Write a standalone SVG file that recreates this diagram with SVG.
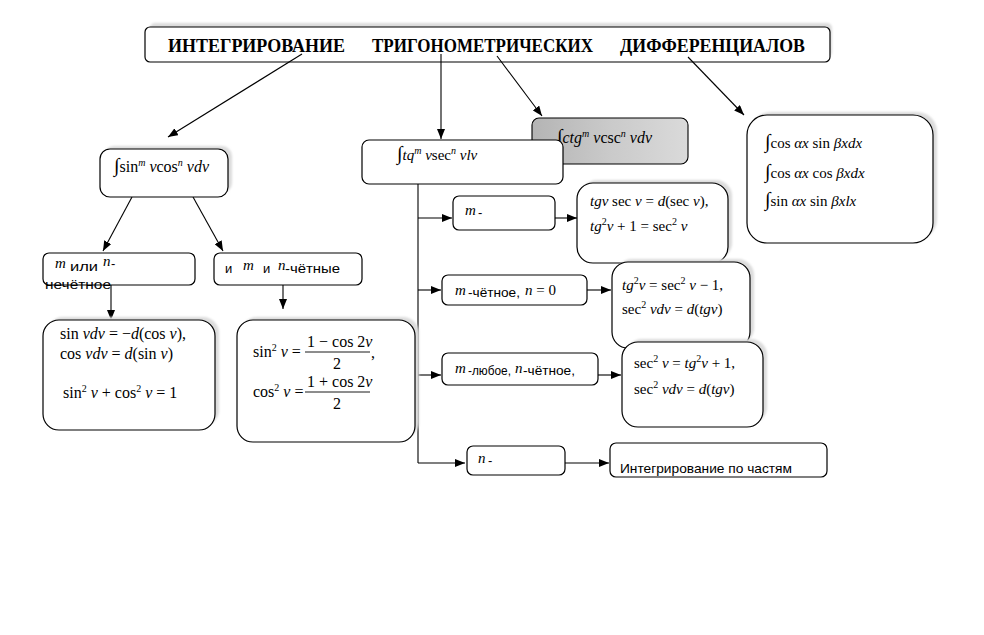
<svg xmlns="http://www.w3.org/2000/svg" width="984" height="635" viewBox="0 0 984 635">
<style>
.b{fill:#fff;stroke:#000;stroke-width:1.2}
.bn{fill:none;stroke:#000;stroke-width:1.2}
.sh{fill:#dcdcdc;filter:url(#bl)}
.f{font-family:"Liberation Serif",serif;font-size:15px;fill:#000}
.f16{font-size:16px}
.i{font-style:italic}
.s{font-size:10px}
.int{font-size:20px}
.t{font-family:"Liberation Sans",Arial,sans-serif;font-size:13px;fill:#000}
.c{stroke:#000;stroke-width:1.1;fill:none}
.a{marker-end:url(#ah)}
.title{font-family:"Liberation Serif",serif;font-size:18px;font-weight:bold}
</style>
<defs>
<filter id="bl" x="-10%" y="-20%" width="120%" height="140%"><feGaussianBlur stdDeviation="1.2"/></filter>
<marker id="ah" markerUnits="userSpaceOnUse" markerWidth="10" markerHeight="8" refX="10" refY="4" orient="auto"><path d="M0,0 L10,4 L0,8 z" fill="#000"/></marker>
<linearGradient id="gg" x1="0" y1="0" x2="1" y2="0"><stop offset="0" stop-color="#b4b4b4"/><stop offset="0.5" stop-color="#cacaca"/><stop offset="1" stop-color="#dadada"/></linearGradient>
</defs>
<rect width="984" height="635" fill="#fff"/>

<g id="title">
<rect class="sh" x="150" y="23" width="682" height="34" rx="5"/>
<rect class="b" x="145" y="27" width="685" height="35" rx="5"/>
<text class="title" y="52"><tspan x="168" textLength="177" lengthAdjust="spacingAndGlyphs">ИНТЕГРИРОВАНИЕ</tspan><tspan x="372" textLength="221" lengthAdjust="spacingAndGlyphs">ТРИГОНОМЕТРИЧЕСКИХ</tspan><tspan x="620" textLength="185" lengthAdjust="spacingAndGlyphs">ДИФФЕРЕНЦИАЛОВ</tspan></text>
</g>

<g id="connectors">
<line class="c a" x1="302" y1="54" x2="168" y2="137"/>
<line class="c a" x1="441" y1="54" x2="441" y2="139"/>
<line class="c a" x1="497" y1="56" x2="542" y2="116"/>
<line class="c a" x1="688" y1="57" x2="744" y2="115"/>
<line class="c a" x1="132" y1="197" x2="103" y2="251"/>
<line class="c a" x1="193" y1="197" x2="223" y2="251"/>
<line class="c a" x1="111" y1="285" x2="111" y2="320"/>
<line class="c a" x1="283" y1="285" x2="283" y2="309"/>
<polyline class="c" points="418,184 418,463"/>
<line class="c a" x1="418" y1="218" x2="452" y2="218"/>
<line class="c a" x1="418" y1="290" x2="441" y2="290"/>
<line class="c a" x1="418" y1="375" x2="441" y2="375"/>
<line class="c a" x1="418" y1="463" x2="465" y2="463"/>
<line class="c a" x1="555" y1="218" x2="577" y2="218"/>
<line class="c a" x1="587" y1="290" x2="611" y2="290"/>
<line class="c a" x1="598" y1="375" x2="621" y2="375"/>
<line class="c a" x1="565" y1="463" x2="609" y2="463"/>
</g>

<g id="n-sincos">
<rect class="sh" x="104" y="146" width="128" height="47" rx="10"/>
<rect class="b" x="100" y="149" width="128" height="48" rx="10"/>
<text class="f f16" x="114" y="172"><tspan class="int">∫</tspan>sin<tspan class="s i" dy="-6">m</tspan><tspan class="i" dy="6"> v</tspan>cos<tspan class="s i" dy="-6">n</tspan><tspan class="i" dy="6"> vdv</tspan></text>
</g>

<g id="n-odd">
<rect class="b" x="43" y="253" width="152" height="32" rx="6"/>
<text class="f i" x="55" y="268">m</text>
<text class="t" x="70" y="271" textLength="28" lengthAdjust="spacingAndGlyphs">или</text>
<text class="f i" x="103" y="266">n</text>
<text class="t" x="111" y="268">-</text>
<text class="t" x="45" y="289" textLength="66" lengthAdjust="spacingAndGlyphs">нечётное</text>
</g>

<g id="n-even">
<rect class="b" x="214" y="253" width="148" height="32" rx="6"/>
<text class="t" x="225" y="273">и</text>
<text class="f i" x="243" y="270">m</text>
<text class="t" x="263" y="273">и</text>
<text class="f i" x="278" y="270">n</text>
<text class="t" x="285" y="273" textLength="55" lengthAdjust="spacingAndGlyphs">-чётные</text>
</g>

<g id="n-sin-formulas">
<rect class="sh" x="47" y="317" width="172" height="109" rx="16"/>
<rect class="b" x="43" y="320" width="172" height="110" rx="16"/>
<text class="f f16" x="60" y="339">sin <tspan class="i">vdv</tspan> = −<tspan class="i">d</tspan>(cos <tspan class="i">v</tspan>),</text>
<text class="f f16" x="60" y="359">cos <tspan class="i">vdv</tspan> = <tspan class="i">d</tspan>(sin <tspan class="i">v</tspan>)</text>
<text class="f f16" x="63" y="398">sin<tspan class="s" dy="-6">2</tspan><tspan class="i" dy="6"> v</tspan> + cos<tspan class="s" dy="-6">2</tspan><tspan class="i" dy="6"> v</tspan> = 1</text>
</g>

<g id="n-half">
<rect class="sh" x="241" y="317" width="178" height="121" rx="16"/>
<rect class="b" x="237" y="320" width="178" height="122" rx="16"/>
<text class="f f16" x="253" y="357">sin<tspan class="s" dy="-6">2</tspan><tspan class="i" dy="6"> v</tspan> =</text>
<text class="f f16" x="307" y="347">1 − cos 2<tspan class="i">v</tspan></text>
<line x1="305" y1="352" x2="370" y2="352" stroke="#000" stroke-width="0.9"/>
<text class="f f16" x="333" y="369">2</text>
<text class="f f16" x="371" y="358">,</text>
<text class="f f16" x="253" y="397">cos<tspan class="s" dy="-6">2</tspan><tspan class="i" dy="6"> v</tspan> =</text>
<text class="f f16" x="307" y="387">1 + cos 2<tspan class="i">v</tspan></text>
<line x1="305" y1="392" x2="370" y2="392" stroke="#000" stroke-width="0.9"/>
<text class="f f16" x="333" y="409">2</text>
</g>

<g id="n-ctg">
<rect x="532" y="118" width="156" height="46" rx="7" fill="url(#gg)" stroke="#000" stroke-width="1.1"/>
<text class="f f16" x="557" y="143"><tspan class="int">∫</tspan><tspan class="i">ctg</tspan><tspan class="s i" dy="-6">m</tspan><tspan class="i" dy="6"> v</tspan>csc<tspan class="s i" dy="-6">n</tspan><tspan class="i" dy="6"> vdv</tspan></text>
</g>

<g id="n-tg">
<rect class="b" x="362" y="140" width="201" height="44" rx="7"/>
<text class="f" x="397" y="160"><tspan class="int">∫</tspan><tspan class="i">tq</tspan><tspan class="s i" dy="-6">m</tspan><tspan class="i" dy="6"> v</tspan>sec<tspan class="s i" dy="-6">n</tspan><tspan class="i" dy="6"> vlv</tspan></text>
</g>

<g id="n-prod">
<rect class="sh" x="751" y="112" width="186" height="127" rx="20"/>
<rect class="b" x="747" y="115" width="186" height="128" rx="20"/>
<text class="f" x="765" y="148"><tspan class="int">∫</tspan>cos <tspan class="i">αx</tspan> sin <tspan class="i">βxdx</tspan></text>
<text class="f" x="765" y="178"><tspan class="int">∫</tspan>cos <tspan class="i">αx</tspan> cos <tspan class="i">βxdx</tspan></text>
<text class="f" x="765" y="206"><tspan class="int">∫</tspan>sin <tspan class="i">αx</tspan> sin <tspan class="i">βxlx</tspan></text>
</g>

<g id="n-m">
<rect class="b" x="453" y="196" width="102" height="34" rx="6"/>
<text class="f i" x="465" y="215">m</text>
<text class="t" x="478" y="217">-</text>
</g>

<g id="n-f1">
<rect class="sh" x="581" y="180" width="151" height="79" rx="16"/>
<rect class="b" x="577" y="183" width="151" height="80" rx="16"/>
<text class="f" x="590" y="206"><tspan class="i">tgv</tspan> sec <tspan class="i">v</tspan> = <tspan class="i">d</tspan>(sec <tspan class="i">v</tspan>),</text>
<text class="f" x="590" y="231"><tspan class="i">tg</tspan><tspan class="s" dy="-6">2</tspan><tspan class="i" dy="6">v</tspan> + 1 = sec<tspan class="s" dy="-6">2</tspan><tspan class="i" dy="6"> v</tspan></text>
</g>

<g id="n-meven">
<rect class="b" x="442" y="275" width="145" height="30" rx="6"/>
<text class="f i" x="455" y="295">m</text>
<text class="t" x="468" y="297" textLength="52" lengthAdjust="spacingAndGlyphs">-чётное,</text>
<text class="f" x="525" y="295"><tspan class="i">n</tspan> = 0</text>
</g>

<g id="n-f2">
<rect class="sh" x="616" y="259" width="138" height="85" rx="16"/>
<rect class="b" x="612" y="262" width="138" height="86" rx="16"/>
<text class="f" x="622" y="290"><tspan class="i">tg</tspan><tspan class="s" dy="-6">2</tspan><tspan class="i" dy="6">v</tspan> = sec<tspan class="s" dy="-6">2</tspan><tspan class="i" dy="6"> v</tspan> − 1,</text>
<text class="f" x="622" y="314">sec<tspan class="s" dy="-6">2</tspan><tspan class="i" dy="6"> vdv</tspan> = <tspan class="i">d</tspan>(<tspan class="i">tgv</tspan>)</text>
</g>

<g id="n-many">
<rect class="b" x="442" y="353" width="156" height="32" rx="6"/>
<text class="f i" x="455" y="373">m</text>
<text class="t" x="468" y="375" textLength="43" lengthAdjust="spacingAndGlyphs">-любое,</text>
<text class="f i" x="515" y="373">n</text>
<text class="t" x="523" y="375" textLength="52" lengthAdjust="spacingAndGlyphs">-чётное,</text>
</g>

<g id="n-f3">
<rect class="sh" x="626" y="339" width="141" height="84" rx="16"/>
<rect class="b" x="622" y="342" width="141" height="85" rx="16"/>
<text class="f" x="634" y="368">sec<tspan class="s" dy="-6">2</tspan><tspan class="i" dy="6"> v</tspan> = <tspan class="i">tg</tspan><tspan class="s" dy="-6">2</tspan><tspan class="i" dy="6">v</tspan> + 1,</text>
<text class="f" x="634" y="394">sec<tspan class="s" dy="-6">2</tspan><tspan class="i" dy="6"> vdv</tspan> = <tspan class="i">d</tspan>(<tspan class="i">tgv</tspan>)</text>
</g>

<g id="n-n">
<rect class="b" x="467" y="446" width="98" height="29" rx="6"/>
<text class="f i" x="478" y="463">n</text>
<text class="t" x="488" y="465">-</text>
</g>

<g id="n-parts">
<rect x="610" y="443" width="217" height="34" rx="6" fill="#fff"/>
<text class="t" x="620" y="473" textLength="172" lengthAdjust="spacingAndGlyphs">Интегрирование по частям</text>
<rect class="bn" x="610" y="443" width="217" height="34" rx="6"/>
</g>
</svg>
